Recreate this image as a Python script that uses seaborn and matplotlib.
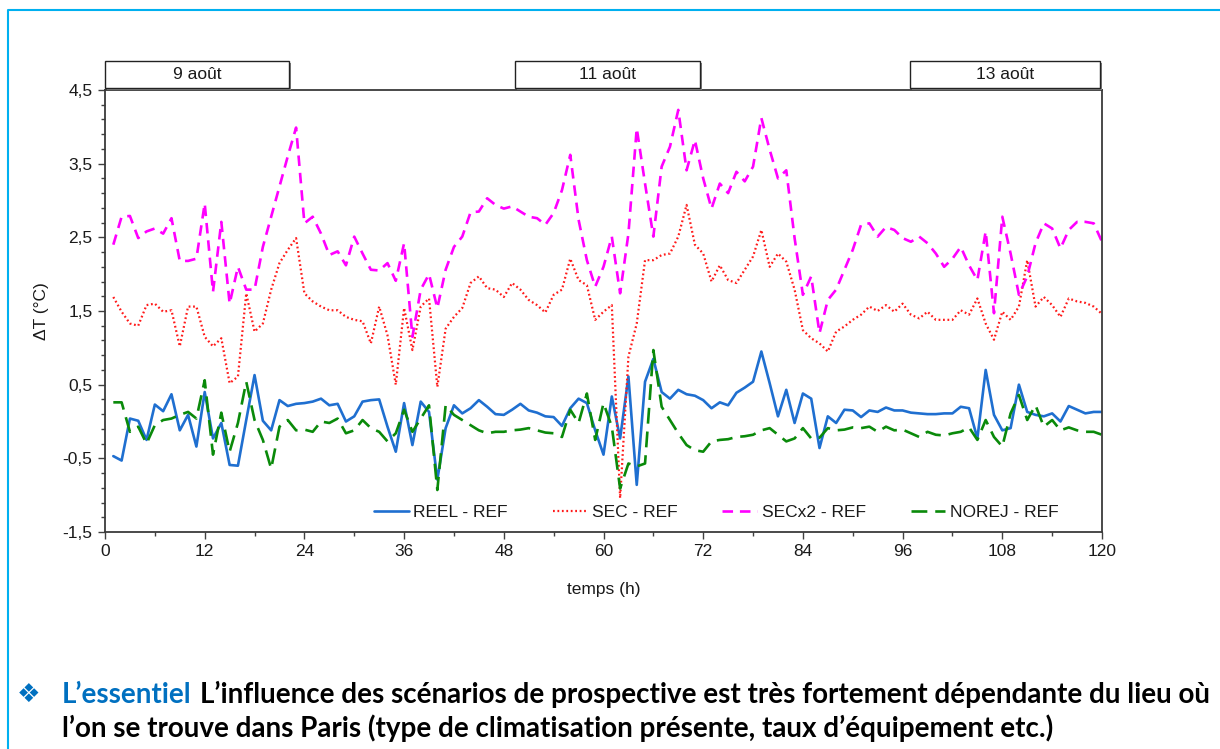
import numpy as np
import pandas as pd
import matplotlib
matplotlib.use("Agg")
import matplotlib.pyplot as plt
import seaborn as sns
from matplotlib.ticker import FixedLocator, FuncFormatter
from matplotlib.patches import Rectangle
from matplotlib.lines import Line2D

sns.set_theme(style="white")
plt.rcParams['font.family'] = ['Liberation Sans', 'DejaVu Sans']

# data (hourly, h = 1..120)
hours = list(range(1, 121))

reel = [-0.47, -0.53, 0.04, 0.01, -0.25, 0.23, 0.14, 0.37, -0.12, 0.09, -0.34, 0.40,
        -0.23, -0.02, -0.59, -0.60, 0.02, 0.63, 0.01, -0.12, 0.29, 0.21, 0.24, 0.25,
        0.27, 0.31, 0.22, 0.24, 0.00, 0.07, 0.27, 0.29, 0.30, -0.07, -0.41, 0.25,
        -0.32, 0.27, 0.13, -0.79, -0.09, 0.22, 0.11, 0.18, 0.29, 0.20, 0.10, 0.09,
        0.16, 0.24, 0.15, 0.12, 0.07, 0.06, -0.06, 0.18, 0.31, 0.25, -0.12, -0.45,
        0.34, -0.23, 0.61, -0.86, 0.54, 0.85, 0.40, 0.31, 0.43, 0.37, 0.35, 0.29,
        0.18, 0.26, 0.22, 0.39, 0.46, 0.54, 0.95, 0.52, 0.07, 0.43, -0.02, 0.38,
        0.31, -0.36, 0.07, -0.02, 0.16, 0.15, 0.06, 0.15, 0.13, 0.19, 0.15, 0.15,
        0.12, 0.11, 0.10, 0.10, 0.11, 0.11, 0.20, 0.18, -0.23, 0.70, 0.09, -0.12,
        -0.09, 0.50, 0.13, 0.09, 0.07, 0.11, 0.00, 0.21, 0.16, 0.11, 0.13, 0.13]

sec = [1.69, 1.49, 1.33, 1.30, 1.58, 1.60, 1.49, 1.51, 1.02, 1.56, 1.56, 1.15,
       1.02, 1.13, 0.52, 0.61, 1.74, 1.22, 1.33, 1.79, 2.15, 2.33, 2.49, 1.74,
       1.63, 1.56, 1.51, 1.51, 1.42, 1.38, 1.36, 1.06, 1.56, 1.17, 0.50, 1.54,
       0.97, 1.56, 1.67, 0.47, 1.26, 1.42, 1.54, 1.88, 1.97, 1.81, 1.79, 1.69,
       1.88, 1.79, 1.65, 1.58, 1.48, 1.72, 1.79, 2.21, 1.92, 1.85, 1.38, 1.49,
       1.58, -1.04, 0.88, 1.33, 2.19, 2.19, 2.26, 2.28, 2.51, 2.94, 2.40, 2.28,
       1.90, 2.12, 1.92, 1.88, 2.06, 2.24, 2.60, 2.10, 2.28, 2.17, 1.79, 1.24,
       1.13, 1.06, 0.95, 1.22, 1.29, 1.38, 1.45, 1.56, 1.50, 1.58, 1.49, 1.60,
       1.45, 1.40, 1.49, 1.38, 1.38, 1.38, 1.51, 1.45, 1.67, 1.33, 1.11, 1.49,
       1.38, 1.56, 2.19, 1.56, 1.69, 1.58, 1.42, 1.67, 1.63, 1.61, 1.56, 1.46]

secx2 = [2.40, 2.78, 2.79, 2.49, 2.58, 2.62, 2.55, 2.76, 2.18, 2.18, 2.21, 2.96,
         1.76, 2.71, 1.60, 2.10, 1.79, 1.79, 2.37, 2.78, 3.19, 3.60, 3.99, 2.69,
         2.78, 2.55, 2.26, 2.31, 2.12, 2.51, 2.28, 2.06, 2.05, 2.15, 1.91, 2.42,
         1.15, 1.79, 2.00, 1.54, 2.06, 2.37, 2.51, 2.84, 2.85, 3.03, 2.94, 2.89,
         2.92, 2.85, 2.78, 2.76, 2.67, 2.83, 3.14, 3.62, 2.74, 2.19, 1.83, 2.10,
         2.51, 1.74, 2.55, 3.98, 3.23, 2.51, 3.46, 3.73, 4.23, 3.41, 3.82, 3.30,
         2.89, 3.23, 3.10, 3.39, 3.26, 3.46, 4.12, 3.69, 3.30, 3.41, 2.49, 1.72,
         1.97, 1.20, 1.65, 1.79, 2.06, 2.33, 2.67, 2.69, 2.51, 2.64, 2.60, 2.49,
         2.44, 2.51, 2.42, 2.28, 2.10, 2.21, 2.37, 2.12, 1.92, 2.58, 1.47, 2.78,
         2.28, 1.72, 1.97, 2.42, 2.69, 2.62, 2.35, 2.60, 2.71, 2.71, 2.69, 2.44]

norej = [0.26, 0.26, -0.14, -0.07, -0.30, -0.05, 0.02, 0.04, 0.09, 0.13, 0.04, 0.56,
         -0.45, 0.12, -0.41, -0.02, 0.54, 0.02, -0.25, -0.64, -0.07, 0.02, -0.12, -0.11,
         -0.14, 0.00, -0.02, 0.04, -0.16, -0.12, 0.02, -0.09, -0.14, -0.27, -0.16, 0.16,
         -0.14, 0.04, 0.22, -0.93, 0.22, 0.09, 0.02, -0.05, -0.12, -0.16, -0.14, -0.14,
         -0.12, -0.11, -0.09, -0.12, -0.15, -0.16, -0.21, 0.16, -0.02, 0.38, -0.25, 0.25,
         -0.07, -0.91, -0.57, -0.61, -0.57, 0.97, 0.20, 0.02, -0.16, -0.32, -0.39, -0.41,
         -0.27, -0.25, -0.24, -0.21, -0.20, -0.18, -0.12, -0.09, -0.18, -0.27, -0.23, -0.09,
         -0.23, -0.22, -0.09, -0.12, -0.11, -0.08, -0.09, -0.07, -0.14, -0.07, -0.12, -0.11,
         -0.16, -0.21, -0.14, -0.18, -0.19, -0.16, -0.14, -0.08, -0.25, 0.02, -0.21, -0.34,
         0.11, 0.36, 0.02, 0.22, -0.07, 0.02, -0.12, -0.08, -0.12, -0.14, -0.14, -0.18]

series_names = ["REEL - REF", "SEC - REF", "SECx2 - REF", "NOREJ - REF"]
day_labels = ["9 août", "11 août", "13 août"]
x_ticks = list(range(0, 121, 12))
y_ticks = [-1.5, -0.5, 0.5, 1.5, 2.5, 3.5, 4.5]

df = pd.DataFrame({"temps": hours, "REEL - REF": reel, "SEC - REF": sec,
                   "SECx2 - REF": secx2, "NOREJ - REF": norej})

W, H = 1220, 749
fig = plt.figure(figsize=(W / 100, H / 100), dpi=100)
ax = fig.add_axes([105 / W, 1 - 532 / H, 997 / W, 442 / H])

styles = {
    "REEL - REF": dict(color="#1f6fd0", linestyle="-", linewidth=1.9),
    "SEC - REF": dict(color="#ff1a1a", linestyle=(0, (0.8, 1.2)), linewidth=1.6),
    "SECx2 - REF": dict(color="#ff00ff", linestyle=(0, (4, 2.6)), linewidth=1.9),
    "NOREJ - REF": dict(color="#0a8a0a", linestyle=(0, (6, 3)), linewidth=1.9),
}
for name in series_names:
    sns.lineplot(data=df, x="temps", y=name, ax=ax, label=name, **styles[name])

ax.set_xlim(0, 120)
ax.set_ylim(-1.5, 4.5)
ax.xaxis.set_major_locator(FixedLocator(x_ticks))
ax.xaxis.set_minor_locator(FixedLocator(list(range(6, 120, 12))))
ax.yaxis.set_major_locator(FixedLocator(y_ticks))
ax.yaxis.set_minor_locator(FixedLocator(np.round(np.arange(-1.3, 4.5, 0.2), 2)))
ax.yaxis.set_major_formatter(FuncFormatter(lambda v, p: f"{v:.1f}".replace(".", ",")))
ax.tick_params(axis="both", which="major", direction="out", length=5, width=1,
               color="#404040", labelsize=12.5, labelcolor="#1a1a1a", pad=4,
               bottom=True, left=True)
ax.tick_params(axis="both", which="minor", direction="out", length=3, width=1,
               color="#404040", bottom=True, left=True)
for s in ax.spines.values():
    s.set_color("#3a3a3a")
    s.set_linewidth(1.3)

ax.set_xlabel("temps (h)", fontsize=12.5, color="#1a1a1a", labelpad=16)
ax.set_ylabel("ΔT (°C)", fontsize=12.5, color="#1a1a1a", labelpad=10)

leg = ax.legend(loc="center", bbox_to_anchor=(0.613, 0.045), ncol=4, frameon=False,
                fontsize=12.5, handlelength=2.0, handletextpad=0.25, columnspacing=2.6)
for t in leg.get_texts():
    t.set_color("#1a1a1a")

# day boxes above the plot
boxes = [(105, 289), (515, 700), (910, 1100)]
for (x0, x1), lab in zip(boxes, day_labels):
    fig.add_artist(Rectangle((x0 / W + 1.5 / W, 1 - 89.5 / H), (x1 - x0) / W, 27 / H,
                             transform=fig.transFigure, facecolor="#808080",
                             edgecolor="none"))
    fig.add_artist(Rectangle((x0 / W, 1 - 88 / H), (x1 - x0) / W, 27 / H,
                             transform=fig.transFigure, facecolor="white",
                             edgecolor="#222222", linewidth=1))
    fig.text((x0 + x1) / 2 / W, 1 - 74.5 / H, lab, ha="center", va="center",
             fontsize=12.5, color="#1a1a1a")

# light blue frame of the slide
fig.add_artist(Line2D([8 / W, 8 / W, 1], [0, 1 - 10 / H, 1 - 10 / H],
                      transform=fig.transFigure, color="#00b0f0", linewidth=1.5))

# caption under the chart
blue = "#0070c0"
fig.text(17 / W, 1 - 695 / H, "❖", fontsize=19, color=blue, va="center",
         family=["DejaVu Sans"])
fig.text(62 / W, 1 - 703 / H, "L’essentiel", fontsize=20, fontweight="bold",
         color=blue, family=["Lato", "DejaVu Sans"], va="baseline")
fig.text(200 / W, 1 - 703 / H,
         "L’influence des scénarios de prospective est très fortement dépendante du lieu où",
         fontsize=20, fontweight="bold", color="black", family=["Lato", "DejaVu Sans"],
         va="baseline")
fig.text(62 / W, 1 - 737 / H,
         "l’on se trouve dans Paris (type de climatisation présente, taux d’équipement etc.)",
         fontsize=20, fontweight="bold", color="black", family=["Lato", "DejaVu Sans"],
         va="baseline")

plt.savefig("out.png", dpi=100)
